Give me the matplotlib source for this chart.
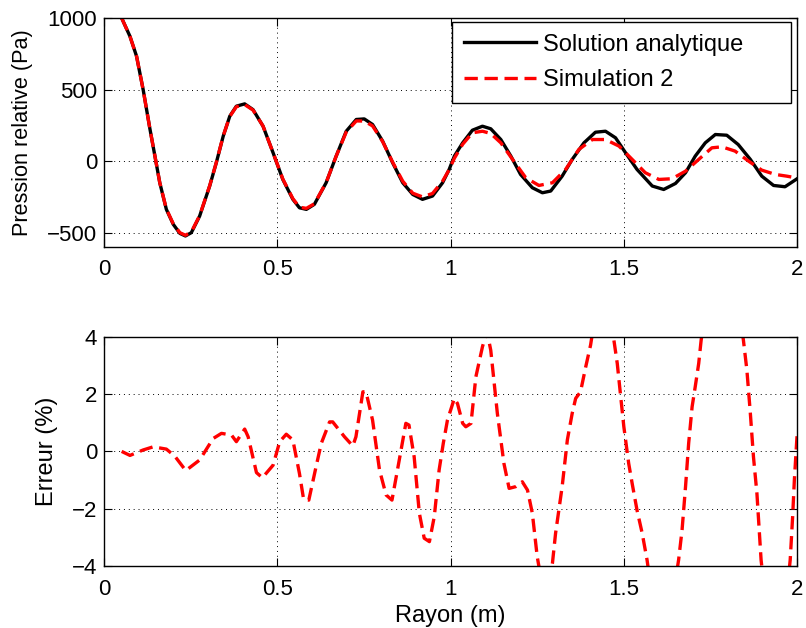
import numpy as np
import matplotlib
matplotlib.use('Agg')
import matplotlib.pyplot as plt

plt.rcParams['font.family'] = ['Liberation Sans', 'DejaVu Sans']
plt.rcParams['font.size'] = 16

# solution analytique
r_ana = [0.051, 0.075, 0.094, 0.113, 0.132, 0.147, 0.161, 0.18, 0.2, 0.219, 0.235, 0.252,
         0.276, 0.305, 0.324, 0.344, 0.363, 0.382, 0.406, 0.43, 0.459, 0.488, 0.516, 0.545,
         0.564, 0.584, 0.607, 0.641, 0.67, 0.699, 0.728, 0.751, 0.775, 0.804, 0.833, 0.862,
         0.891, 0.919, 0.948, 0.977, 0.996, 1.011, 1.035, 1.063, 1.092, 1.116, 1.145, 1.174,
         1.202, 1.236, 1.265, 1.289, 1.322, 1.351, 1.385, 1.418, 1.447, 1.476, 1.505, 1.538,
         1.582, 1.615, 1.649, 1.678, 1.706, 1.735, 1.764, 1.797, 1.83, 1.865, 1.898, 1.932,
         1.965, 2.0]
p_ana = [1000, 872, 733, 500, 233, 35, -151, -337, -442, -505, -523, -500,
         -384, -174, -12, 174, 314, 384, 400, 360, 244, 58, -128, -267,
         -326, -337, -302, -151, 35, 209, 291, 295, 256, 140, -12, -151,
         -233, -267, -244, -151, -58, 35, 128, 216, 244, 226, 151, 35,
         -93, -186, -221, -209, -105, 12, 128, 202, 209, 163, 58, -58,
         -174, -198, -156, -81, 35, 128, 186, 181, 116, 12, -105, -170,
         -179, -123]

# simulation 2
r_sim = [0.051, 0.075, 0.094, 0.113, 0.132, 0.147, 0.161, 0.18, 0.2, 0.219, 0.235, 0.252,
         0.276, 0.305, 0.324, 0.344, 0.363, 0.382, 0.406, 0.43, 0.459, 0.488, 0.516, 0.545,
         0.564, 0.584, 0.607, 0.641, 0.67, 0.699, 0.728, 0.751, 0.775, 0.804, 0.833, 0.862,
         0.891, 0.919, 0.948, 0.977, 0.996, 1.011, 1.035, 1.063, 1.092, 1.116, 1.145, 1.179,
         1.217, 1.255, 1.294, 1.332, 1.37, 1.409, 1.447, 1.486, 1.524, 1.562, 1.601, 1.639,
         1.678, 1.716, 1.754, 1.783, 1.821, 1.86, 1.898, 1.937, 1.97, 2.0]
p_sim = [1000, 872, 733, 500, 233, 35, -151, -335, -438, -500, -518, -495,
         -381, -172, -10, 176, 312, 380, 395, 357, 245, 58, -125, -262,
         -322, -330, -298, -150, 35, 203, 281, 280, 246, 137, -8, -140,
         -224, -250, -226, -140, -60, 20, 118, 198, 209, 193, 128, 12,
         -116, -170, -151, -58, 81, 151, 151, 105, 12, -81, -128, -123,
         -70, 12, 93, 100, 70, 0, -63, -93, -105, -118]

# erreur (%)
r_err = [0.051, 0.075, 0.113, 0.142, 0.18, 0.204, 0.236, 0.276, 0.315, 0.339, 0.368, 0.382,
         0.406, 0.416, 0.44, 0.457, 0.488, 0.507, 0.526, 0.545, 0.564, 0.576, 0.591, 0.612,
         0.627, 0.651, 0.66, 0.694, 0.718, 0.727, 0.747, 0.756, 0.775, 0.795, 0.814, 0.831,
         0.852, 0.871, 0.88, 0.895, 0.91, 0.924, 0.939, 0.953, 0.967, 0.979, 0.991, 1.011,
         1.02, 1.035, 1.044, 1.059, 1.073, 1.092, 1.105, 1.116, 1.135, 1.154, 1.169, 1.188,
         1.207, 1.222, 1.236, 1.25, 1.272, 1.294, 1.303, 1.322, 1.337, 1.351, 1.361, 1.375,
         1.39, 1.404, 1.44, 1.481, 1.49, 1.5, 1.514, 1.524, 1.538, 1.553, 1.567, 1.61,
         1.658, 1.668, 1.678, 1.687, 1.697, 1.706, 1.716, 1.723, 1.785, 1.845, 1.855, 1.865,
         1.874, 1.884, 1.89, 1.896, 1.94, 1.98, 1.987, 1.992, 2.0]
e_err = [0.0, -0.14, 0.05, 0.16, 0.08, -0.16, -0.67, -0.3, 0.45, 0.63, 0.57, 0.34,
         0.78, 0.51, -0.74, -0.92, -0.48, 0.34, 0.6, 0.4, -0.77, -1.67, -1.7, -0.53,
         0.28, 1.03, 1.03, 0.51, 0.19, 0.51, 2.08, 2.08, 1.09, -0.65, -1.52, -1.7,
         -0.3, 0.98, 0.92, -0.19, -2.16, -3.03, -3.15, -2.28, -0.65, 0.28, 1.09, 1.85,
         1.67, 0.98, 0.86, 0.98, 2.6, 3.65, 4.2, 3.53, 1.33, -0.42, -1.29, -1.23,
         -1.06, -1.35, -2.16, -3.67, -5.2, -3.9, -2.86, -1.23, 0.4, 1.33, 1.85, 2.08,
         2.95, 3.71, 6.5, 3.07, 2.02, 0.86, -0.42, -1.12, -2.05, -2.86, -3.79, -7.5,
         -3.79, -2.74, -1.23, 0.28, 1.56, 2.26, 3.07, 3.88, 9.0, 3.88, 2.84, 1.33,
         -0.19, -1.47, -2.63, -3.79, -8.5, -3.79, -2.28, -1.0, 0.6]

fig = plt.figure(figsize=(8.06, 6.28), dpi=100)
ax1 = fig.add_axes([0.129, 0.6067, 0.860, 0.3646])
ax2 = fig.add_axes([0.129, 0.0987, 0.860, 0.3650])

dash = (0, (4, 2))
ax1.plot(r_ana, p_ana, color='black', lw=2.4, label='Solution analytique')
ax1.plot(r_sim, p_sim, color='red', lw=2.4, ls=dash, label='Simulation 2')
ax1.set_xlim(0, 2)
ax1.set_ylim(-600, 1000)
ax1.set_yticks([-500, 0, 500, 1000])
ax1.set_xticks([0, 0.5, 1, 1.5, 2])
ax1.set_xticklabels(['0', '0.5', '1', '1.5', '2'])
ax1.set_ylabel('Pression relative (Pa)', fontsize=15.6)
leg = ax1.legend(loc='upper left', bbox_to_anchor=(0.502, 0.633, 0.489, 0.35), mode='expand',
                 fancybox=False, edgecolor='black', framealpha=1, handlelength=3.05,
                 borderpad=0.5, labelspacing=0.58, handletextpad=0.3, borderaxespad=0,
                 fontsize=17)
leg.get_frame().set_linewidth(1.0)

ax2.plot(r_err, e_err, color='red', lw=2.4, ls=dash)
ax2.set_xlim(0, 2)
ax2.set_ylim(-4, 4)
ax2.set_yticks([-4, -2, 0, 2, 4])
ax2.set_xticks([0, 0.5, 1, 1.5, 2])
ax2.set_xticklabels(['0', '0.5', '1', '1.5', '2'])
ax2.set_ylabel('Erreur (%)', fontsize=17)
ax2.set_xlabel('Rayon (m)', fontsize=17, labelpad=4)

for ax in (ax1, ax2):
    ax.grid(True, color='black', ls=(0, (1, 4)), lw=0.7)
    ax.tick_params(direction='in', top=True, right=True, length=6, width=0.8, labelsize=16)
    ax.tick_params(axis='x', pad=9)
    ax.tick_params(axis='y', pad=5)
    for s in ax.spines.values():
        s.set_linewidth(1.0)

ax1.yaxis.set_label_coords(-0.102, 0.5)
ax2.yaxis.set_label_coords(-0.066, 0.5)
ax1.set_yticklabels(['\u2212500', '0', '500', '1000'])
ax2.set_yticklabels(['\u22124', '\u22122', '0', '2', '4'])

fig.savefig('out.png', dpi=100)
